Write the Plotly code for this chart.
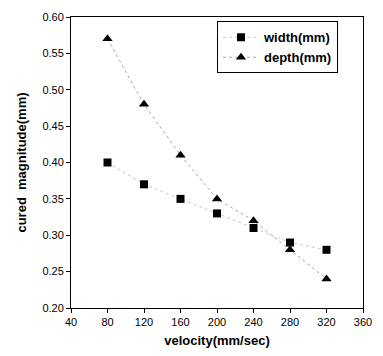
import plotly.graph_objects as go

velocity = [80, 120, 160, 200, 240, 280, 320]
width_mm = [0.40, 0.37, 0.35, 0.33, 0.31, 0.29, 0.28]
depth_mm = [0.57, 0.48, 0.41, 0.35, 0.32, 0.28, 0.24]

x_ticks = [40, 80, 120, 160, 200, 240, 280, 320, 360]
y_ticks = [0.20, 0.25, 0.30, 0.35, 0.40, 0.45, 0.50, 0.55, 0.60]

fig = go.Figure()
fig.add_trace(go.Scatter(
    x=velocity, y=width_mm, name="width(mm)", mode="lines+markers",
    line=dict(color="#c8c8c8", width=1, dash="dot"),
    marker=dict(symbol="square", size=8, color="black"),
))
fig.add_trace(go.Scatter(
    x=velocity, y=depth_mm, name="depth(mm)", mode="lines+markers",
    line=dict(color="#a8a8a8", width=1, dash="dot"),
    marker=dict(symbol="triangle-up", size=9, color="black"),
))

font = "Liberation Sans, Arial, sans-serif"
fig.update_layout(
    width=383, height=356,
    margin=dict(l=71, r=11, t=12, b=46),
    paper_bgcolor="white", plot_bgcolor="white",
    font=dict(family=font, size=11, color="black"),
    showlegend=True,
    legend=dict(
        x=0.5, y=0.985, xanchor="left", yanchor="top",
        bordercolor="black", borderwidth=1, bgcolor="white",
        font=dict(family=font, size=13, color="black", weight="bold"),
        itemwidth=36, tracegroupgap=0,
    ),
    xaxis=dict(
        range=[40, 360], tickvals=x_ticks,
        ticktext=[str(v) for v in x_ticks],
        showgrid=False, zeroline=False,
        showline=True, linecolor="black", linewidth=1, mirror=True,
        ticks="outside", ticklen=4, tickcolor="black",
        tickfont=dict(size=11, family=font),
        title=dict(text="velocity(mm/sec)", font=dict(size=13, family=font, weight="bold"), standoff=8),
    ),
    yaxis=dict(
        range=[0.20, 0.60], tickvals=y_ticks,
        ticktext=[f"{v:.2f}" for v in y_ticks],
        showgrid=False, zeroline=False,
        showline=True, linecolor="black", linewidth=1, mirror=True,
        ticks="outside", ticklen=4, tickcolor="black",
        tickfont=dict(size=11, family=font),
        title=dict(text="cured  magnitude(mm)", font=dict(size=13, family=font, weight="bold"), standoff=12),
    ),
)

fig.write_html(
    "out.html",
    config={"displayModeBar": False},
    post_script="document.body.style.margin='0';document.body.style.overflow='hidden';",
)
